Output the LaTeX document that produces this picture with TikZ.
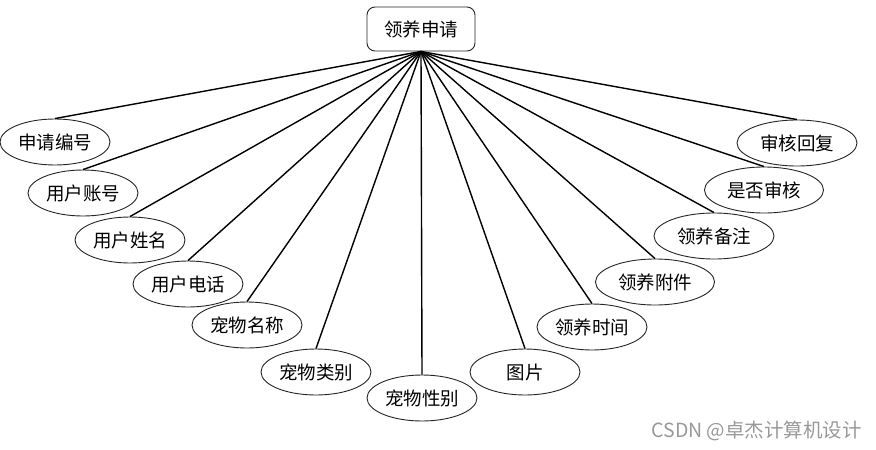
\documentclass[tikz,border=0pt]{standalone}
\usepackage{fontspec}
\newfontfamily\cjk{Noto Sans CJK SC}
\usetikzlibrary{shapes.geometric}
\begin{document}
\begin{tikzpicture}[x=1pt,y=-1pt,
  attr/.style={ellipse,draw=black!85,line width=0.9pt,inner sep=0pt,minimum height=46pt,minimum width=110pt,font=\cjk\fontsize{18.5}{19}\selectfont},
  topbox/.style={rectangle,rounded corners=8pt,draw=black!85,line width=0.9pt,inner sep=0pt,minimum width=108pt,minimum height=44pt,font=\cjk\fontsize{18.5}{19}\selectfont},
  edge/.style={line width=1.4pt,black},
  wmark/.style={font=\cjk\fontsize{19.5}{20}\selectfont,text=black!40}]
\useasboundingbox[fill=white] (0,0) rectangle (876,450);
\node[topbox] (top) at (421,29) {领养申请};
\node[attr] (a1) at (55,142) {申请编号};
\node[attr] (a2) at (83,193) {用户账号};
\node[attr] (a3) at (130,240) {用户姓名};
\node[attr] (a4) at (188,284) {用户电话};
\node[attr] (a5) at (247,325) {宠物名称};
\node[attr] (a6) at (316,372) {宠物类别};
\node[attr] (a7) at (422,398) {宠物性别};
\node[attr] (a8) at (525,372) {图片};
\node[attr] (a9) at (592,327) {领养时间};
\node[attr,minimum width=119pt] (a10) at (655,282) {领养附件};
\node[attr,minimum width=120pt] (a11) at (714,236) {领养备注};
\node[attr,minimum width=119pt] (a12) at (764,190) {是否审核};
\node[attr,minimum width=120pt] (a13) at (797,143) {审核回复};
\foreach \i in {1,...,13} {\draw[edge] (top.south) -- (a\i.north);}
\node[wmark,anchor=west] (wm) at (648,431) {CSDN @卓杰计算机设计};
\end{tikzpicture}
\end{document}
